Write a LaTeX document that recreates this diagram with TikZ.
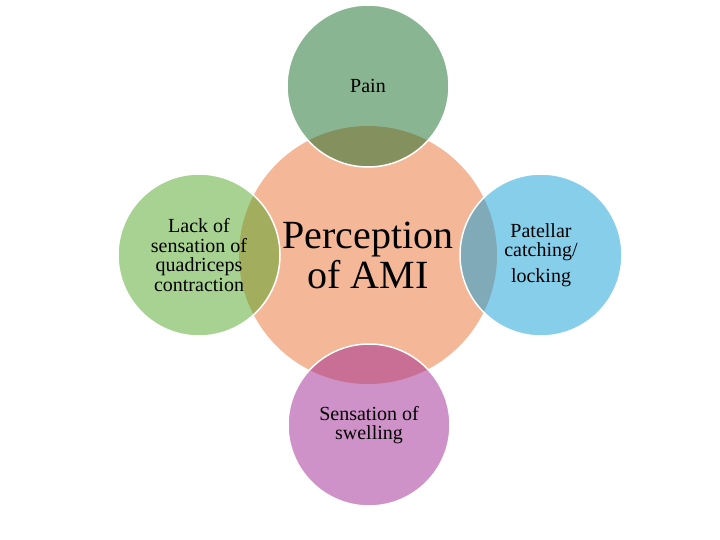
\documentclass[tikz,border=0pt]{standalone}
\usepackage{fontspec}
\setmainfont{Liberation Serif}

\definecolor{amisalmon}{RGB}{244,184,153}
\definecolor{paingreen}{RGB}{21,107,37}
\definecolor{lackgreen}{RGB}{81,165,35}
\definecolor{lockblue}{RGB}{15,157,215}
\definecolor{swellpink}{RGB}{159,37,145}

\begin{document}
\begin{tikzpicture}[
    x=1pt, y=-1pt,
    hub/.style={
        circle,
        minimum size=258pt,
        inner sep=0pt,
        fill=amisalmon,
        font=\fontsize{40}{40}\selectfont,
        align=center
    },
    petal/.style={
        circle,
        minimum size=162pt,
        inner sep=0pt,
        draw=white,
        line width=1.5pt,
        fill opacity=0.5,
        text opacity=1,
        font=\fontsize{20}{19.5}\selectfont,
        align=center
    }
]

\useasboundingbox (0,0) rectangle (720,540);

\node[hub] (ami) at (368,255) {Perception\\of AMI};

\node[petal, fill=paingreen] (pain) at (368,86) {Pain};
\node[petal, fill=lackgreen] (lack) at (199,255) {Lack of\\sensation of\\quadriceps\\contraction};
\node[petal, fill=lockblue] (lock) at (541,255) {Patellar\\catching/\\[6pt]locking};
\node[petal, fill=swellpink] (swell) at (369,425) {Sensation of\\swelling};

\end{tikzpicture}
\end{document}
